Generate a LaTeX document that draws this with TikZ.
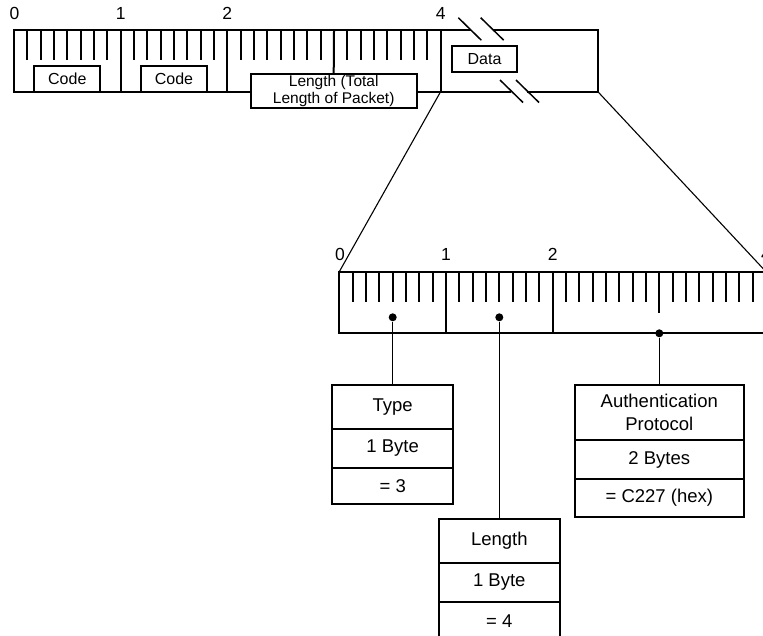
\documentclass[tikz,border=0pt]{standalone}
\usepackage{fontspec}
\setmainfont{Liberation Sans}
\usetikzlibrary{positioning}
\newcommand{\bytew}{106.67}
\newcommand{\bitw}{13.333}
\newcommand{\tickh}{30}
\newcommand{\cellfont}{\fontsize{18.5}{22.3}\selectfont}
\newcommand{\fieldfont}{\fontsize{16}{16.5}\selectfont}

\tikzset{
  field/.style={draw, fill=white, line width=2pt, font=\fieldfont, minimum width=66pt, minimum height=26pt, inner sep=0pt, outer sep=0pt, align=center},
  cell/.style={draw, line width=2pt, font=\cellfont, minimum width=120.7pt, inner sep=0pt, outer sep=0pt, align=center},
  digit/.style={font=\fontsize{17.5}{20}\selectfont, inner sep=0pt},
  pin/.style={circle, fill, inner sep=0pt, minimum size=8pt},
  link/.style={line width=1.1pt},
}

\begin{document}
\begin{tikzpicture}[x=1pt, y=-1pt, line width=2pt]
    \useasboundingbox (0,0) rectangle (763,635);
    \clip (0,0) rectangle (763,635);

    \coordinate (TL) at (14, 30);
    \coordinate (DL) at (440.7, 91.5);
    \coordinate (DR) at (597.7, 91.5);
    \coordinate (BL) at (339.3, 271.7);
    \coordinate (BR) at (766, 271.7);

    % fields
    \node[field] (code1) at (67.3, 78.5) {Code};
    \node[field] (code2) at (174, 78.5) {Code};
    \node[field, minimum width=166pt, minimum height=34pt, font=\fontsize{15.5}{16.5}\selectfont] (len) at (333.7, 91) {Length (Total\\Length of Packet)};
    \node[field, minimum width=65.6pt] (data) at (484.5, 58.7) {Data};

    % top ruler
    \draw (len.west |- DL) -- (14, 91.5) -- (TL) -- (440.7, 30) -- (DL) -- (len.east |- DL);
    \foreach \b in {1,2}
        \draw (14+\b*\bytew, 30) -- ++(0, 61.5);
    \draw (14+3*\bytew, 30) -- (len.north);
    \foreach \b in {0,...,3}
        \foreach \i in {1,...,7}
            \draw (14+\b*\bytew+\i*\bitw, 30) -- ++(0, \tickh);

    % data part with breaks
    \draw (440.7, 30) -- (470.6, 30);
    \draw (493, 30) -- (597.7, 30) -- (DR) -- (527, 91.5);
    \draw (511, 91.5) -- (DL);
    \draw[line width=1.5pt] (458.3, 17.7) -- ++(23, 22.5);
    \draw[line width=1.5pt] (480.7, 17.7) -- ++(23, 22.5);
    \draw[line width=1.5pt] (500, 80) -- ++(23, 22.5);
    \draw[line width=1.5pt] (516, 80) -- ++(23, 22.5);

    \node[digit] (t0) at (14.5, 13.5) {0};
    \node[digit] (t1) at (120.7, 13.5) {1};
    \node[digit] (t2) at (227.3, 13.5) {2};
    \node[digit] (t4) at (440.7, 13.5) {4};

    % zoom lines
    \draw[link] (DL) -- (BL);
    \draw[link] (DR) -- (BR);

    % bottom ruler
    \draw (BL) rectangle (800, 333.3);
    \foreach \b in {1,2}
        \draw (339.3+\b*\bytew, 271.7) -- ++(0, 61.6);
    \draw (339.3+3*\bytew, 271.7) -- ++(0, 41.3);
    \draw (339.3+4*\bytew, 271.7) -- ++(0, 61.6);
    \foreach \b in {0,...,3}
        \foreach \i in {1,...,7}
            \draw (339.3+\b*\bytew+\i*\bitw, 271.7) -- ++(0, \tickh);

    \node[digit] (b0) at (340, 254) {0};
    \node[digit] (b1) at (446, 254) {1};
    \node[digit] (b2) at (552.7, 254) {2};
    \node[digit] (b4) at (766, 254) {4};

    \node[pin] (typepin) at (392.7, 317.3) {};
    \node[pin] (lenpin) at (499.3, 317.3) {};
    \node[pin] (authpin) at (659.3, 333.3) {};

    % boxes
    \node[cell, minimum height=44pt, anchor=north] (type1) at (392.7, 385) {Type};
    \node[cell, minimum height=38.5pt, below=0pt of type1] (type2) {1 Byte};
    \node[cell, minimum height=36.5pt, below=0pt of type2] (type3) {= 3};

    \node[cell, minimum height=43.5pt, anchor=north] (len1) at (499.3, 519) {Length};
    \node[cell, minimum height=39.4pt, below=0pt of len1] (len2) {1 Byte};
    \node[cell, minimum height=38pt, below=0pt of len2] (len3) {= 4};

    \node[cell, minimum width=169pt, minimum height=55pt, anchor=north] (auth1) at (659.3, 385) {Authentication\\Protocol};
    \node[cell, minimum width=169pt, minimum height=39pt, below=0pt of auth1] (auth2) {2 Bytes};
    \node[cell, minimum width=169pt, minimum height=38.3pt, below=0pt of auth2] (auth3) {= C227 (hex)};

    \draw[link] (typepin) -- (type1.north);
    \draw[link] (lenpin) -- (len1.north);
    \draw[link] (authpin) -- (auth1.north);
\end{tikzpicture}
\end{document}
